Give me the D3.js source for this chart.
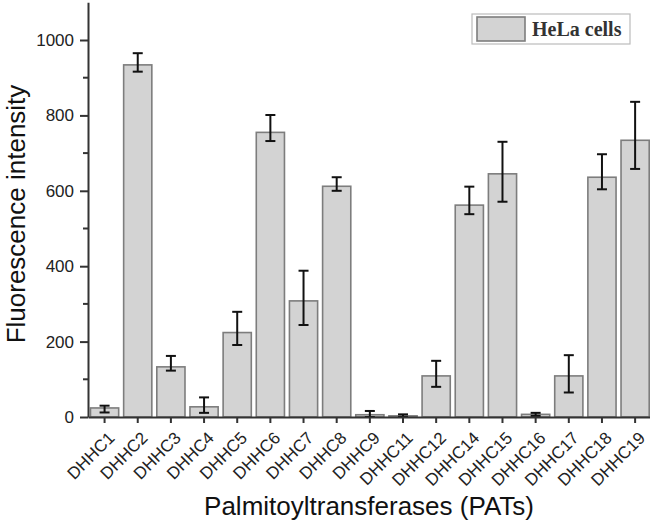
<!doctype html>
<html lang="en">
<head>
<meta charset="UTF-8">
<script src="https://d3js.org/d3.v7.min.js"></script>
<style>
    body { margin: 0; background: #fff; }
    svg { display: block; }
    .tick text { font-family: "Liberation Sans", Arial, sans-serif; fill: #222; }
    .title { font-family: "Liberation Sans", Arial, sans-serif; fill: #111; }
</style>
</head>
<body>
<svg id="chart" width="650" height="521"></svg>
<script>
// values
var categories = ["DHHC1", "DHHC2", "DHHC3", "DHHC4", "DHHC5", "DHHC6", "DHHC7", "DHHC8", "DHHC9",
    "DHHC11", "DHHC12", "DHHC14", "DHHC15", "DHHC16", "DHHC17", "DHHC18", "DHHC19"];
var means = [24, 934, 133, 27, 224, 755, 308, 612, 6, 3, 109, 562, 645, 7, 109, 636, 734];
var errLow = [12, 916, 123, 11, 191, 732, 244, 600, 0, 0, 80, 538, 571, 3, 65, 604, 658];
var errHigh = [30, 965, 162, 52, 279, 801, 388, 636, 16, 7, 149, 611, 730, 11, 164, 697, 836];
var yTicks = [0, 200, 400, 600, 800, 1000];
var yMinor = [100, 300, 500, 700, 900];
var seriesName = "HeLa cells";

var data = categories.map(function (c, i) {
    return {name: c, value: means[i], lo: errLow[i], hi: errHigh[i]};
});

var svg = d3.select("#chart");
var plotLeft = 88, plotRight = 651.7, plotTop = 2.3, plotBottom = 417;

var x = d3.scaleBand().domain(categories).range([plotLeft, plotRight])
    .paddingInner(0.15).paddingOuter(0.075);
var y = d3.scaleLinear().domain([0, 1100]).range([plotBottom, plotTop]);

// bars
svg.append("g").selectAll("rect")
    .data(data)
    .enter()
    .append("rect")
    .attr("x", function (d) { return x(d.name); })
    .attr("y", function (d) { return y(d.value); })
    .attr("width", x.bandwidth())
    .attr("height", function (d) { return y(0) - y(d.value); })
    .attr("fill", "#d3d3d3")
    .attr("stroke", "#7d7d7d")
    .attr("stroke-width", 1.6);

// error bars
var eb = svg.append("g").attr("stroke", "#111").attr("stroke-width", 2);
data.forEach(function (d) {
    var cx = x(d.name) + x.bandwidth() / 2;
    eb.append("line").attr("x1", cx).attr("x2", cx).attr("y1", y(d.lo)).attr("y2", y(d.hi));
    eb.append("line").attr("x1", cx - 5).attr("x2", cx + 5).attr("y1", y(d.hi)).attr("y2", y(d.hi));
    eb.append("line").attr("x1", cx - 5).attr("x2", cx + 5).attr("y1", y(d.lo)).attr("y2", y(d.lo));
});

// y axis
var yAxis = svg.append("g")
    .attr("transform", "translate(" + plotLeft + ",0)")
    .call(d3.axisLeft(y).tickValues(yTicks).tickFormat(d3.format("d"))
        .tickSize(8).tickPadding(6).tickSizeOuter(0));
yAxis.selectAll(".tick text").style("font-size", "17px");
yAxis.append("g").selectAll("line")
    .data(yMinor)
    .enter()
    .append("line")
    .attr("x1", -5).attr("x2", 0)
    .attr("y1", function (d) { return y(d); })
    .attr("y2", function (d) { return y(d); });
yAxis.selectAll("line, path").attr("stroke", "#333").attr("stroke-width", 2);

// x axis
var xAxis = svg.append("g")
    .attr("transform", "translate(0," + plotBottom + ")")
    .call(d3.axisBottom(x).tickSize(6).tickSizeOuter(0));
xAxis.selectAll("line, path").attr("stroke", "#333").attr("stroke-width", 2);
xAxis.selectAll(".tick text")
    .style("font-size", "17px")
    .attr("text-anchor", "end")
    .attr("dy", 0)
    .attr("y", 0)
    .attr("transform", "translate(11,22) rotate(-45)");

// axis titles
svg.append("text")
    .attr("class", "title")
    .attr("transform", "translate(25,214) rotate(-90)")
    .attr("text-anchor", "middle")
    .style("font-size", "26px")
    .text("Fluorescence intensity");

svg.append("text")
    .attr("class", "title")
    .attr("x", 369)
    .attr("y", 515)
    .attr("text-anchor", "middle")
    .style("font-size", "26px")
    .text("Palmitoyltransferases (PATs)");

// legend
var legend = svg.append("g");
legend.append("rect")
    .attr("x", 472).attr("y", 14).attr("width", 158).attr("height", 30)
    .attr("fill", "#fff").attr("stroke", "#bbb").attr("stroke-width", 1.2);
legend.append("rect")
    .attr("x", 477).attr("y", 17).attr("width", 48).attr("height", 24)
    .attr("fill", "#d3d3d3").attr("stroke", "#7d7d7d").attr("stroke-width", 1.6);
legend.append("text")
    .attr("x", 532).attr("y", 36)
    .style("font-family", "'Liberation Serif', 'Times New Roman', serif")
    .style("font-weight", "bold")
    .style("font-size", "20px")
    .attr("fill", "#333")
    .text(seriesName);
</script>
</body>
</html>
